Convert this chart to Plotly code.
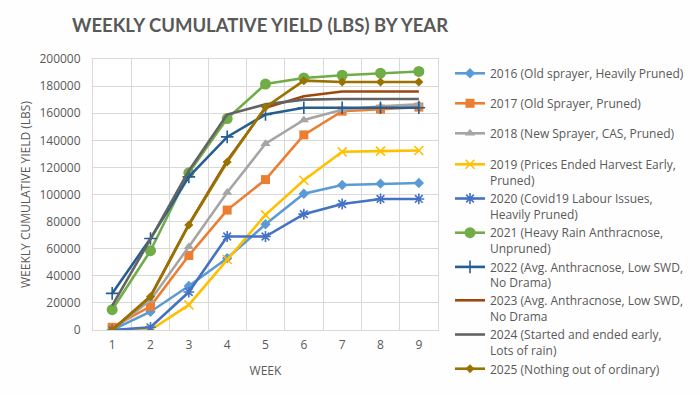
import plotly.graph_objects as go

weeks = [1, 2, 3, 4, 5, 6, 7, 8, 9]

names = [
    "2016 (Old sprayer, Heavily Pruned)",
    "2017 (Old Sprayer, Pruned)",
    "2018 (New Sprayer, CAS, Pruned)",
    "2019 (Prices Ended Harvest Early,<br>Pruned)",
    "2020 (Covid19 Labour Issues,<br>Heavily Pruned)",
    "2021 (Heavy Rain Anthracnose,<br>Unpruned)",
    "2022 (Avg. Anthracnose, Low SWD,<br>No Drama)",
    "2023 (Avg. Anthracnose, Low SWD,<br>No Drama",
    "2024 (Started and ended early,<br>Lots of rain)",
    "2025 (Nothing out of ordinary)",
]

y2016 = [0, 13500, 32500, 53000, 78000, 100500, 107000, 108000, 108500]
y2017 = [2000, 17500, 55000, 88500, 111000, 144000, 161500, 163000, 164500]
y2018 = [0, 22000, 61500, 101500, 137500, 155000, 162500, 165000, 166500]
y2019 = [0, 0, 18500, 52000, 85000, 110500, 131500, 132000, 132500]
y2020 = [0, 2000, 28000, 69000, 69000, 85500, 93000, 96700, 96700]
y2021 = [15000, 58500, 116000, 156000, 181500, 186000, 188000, 189500, 190800]
y2022 = [27000, 67500, 113000, 142500, 159000, 164000, 164000, 164000, 164000]
y2023 = [0, 25000, 78000, 125000, 164000, 172500, 176000, 176000, 176000]
y2024 = [18000, 67000, 117500, 159000, 166500, 170000, 170500, 170500, 170500]
y2025 = [0, 24500, 77500, 124000, 164500, 184000, 183000, 183000, 183000]

series = [y2016, y2017, y2018, y2019, y2020, y2021, y2022, y2023, y2024, y2025]
colors = ["#5B9BD5", "#ED7D31", "#A5A5A5", "#FFC000", "#4472C4",
          "#70AD47", "#255E91", "#9E480E", "#636363", "#997300"]
symbols = ["diamond", "square", "triangle-up", "x-thin", "asterisk",
           "circle", "cross-thin", "circle", "circle", "diamond"]
msizes = [8, 9, 9, 9, 9, 11, 9, 0, 0, 7]
modes = ["lines+markers"] * 7 + ["lines", "lines", "lines+markers"]
legend_ids = ["legend"] * 3 + ["legend2"] * 4 + ["legend3"] * 3

fig = go.Figure()
for i, (nm, ys) in enumerate(zip(names, series)):
    thin = symbols[i] in ("x-thin", "asterisk", "cross-thin")
    fig.add_trace(go.Scatter(
        x=weeks, y=ys, name=nm, mode=modes[i],
        line=dict(color=colors[i], width=2.6),
        marker=dict(symbol=symbols[i], size=msizes[i], color=colors[i],
                    line=dict(color=colors[i], width=1.6 if thin else 0)),
        legend=legend_ids[i],
        legendgroup=f"g{i}",
    ))

grid = "#D9D9D9"
txt = "#595959"
lfont = dict(family="Open Sans", size=12, color=txt)


def leg(top_px, gap):
    return dict(x=450 / 700, xref="container", y=1 - top_px / 394, yref="container",
                xanchor="left", yanchor="top", tracegroupgap=gap, valign="top",
                font=lfont, bgcolor="rgba(0,0,0,0)")


fig.update_layout(
    width=700, height=394,
    margin=dict(l=93, r=262, t=59, b=64),
    paper_bgcolor="#FEFEFE", plot_bgcolor="#FFFFFF",
    font=dict(family="Open Sans", size=12, color=txt),
    title=dict(text="<b>WEEKLY CUMULATIVE YIELD (LBS) BY YEAR</b>",
               font=dict(family="Lato", size=18.5, color=txt),
               x=260 / 700, xanchor="center", y=1 - 26 / 394, yanchor="middle",
               xref="container", yref="container"),
    xaxis=dict(range=[0.5, 9.5], tickvals=weeks, showgrid=False, zeroline=False,
               showline=True, linecolor=grid, mirror=True, ticks="",
               automargin=False, ticklabelstandoff=4,
               minor=dict(tickvals=[w - 0.5 for w in weeks] + [9.5], showgrid=True,
                          gridcolor=grid, gridwidth=1, ticks=""),
               title=dict(text="WEEK", font=dict(size=12, color=txt), standoff=14),
               tickfont=dict(size=12, color=txt)),
    yaxis=dict(range=[0, 200000], dtick=20000, tickformat="d", gridcolor=grid,
               zeroline=False, showline=True, linecolor=grid, mirror=True,
               automargin=False, ticklabelstandoff=9,
               title=dict(text="WEEKLY CUMULATIVE YIELD (LBS)",
                          font=dict(size=12, color=txt), standoff=6),
               tickfont=dict(size=12, color=txt)),
    legend=leg(59, 11),
    legend2=leg(150, 0),
    legend3=leg(286, 0),
)

fig.write_html("out.html", config={"displayModeBar": False},
               post_script="document.body.style.margin='0px';document.body.style.padding='0px';")
